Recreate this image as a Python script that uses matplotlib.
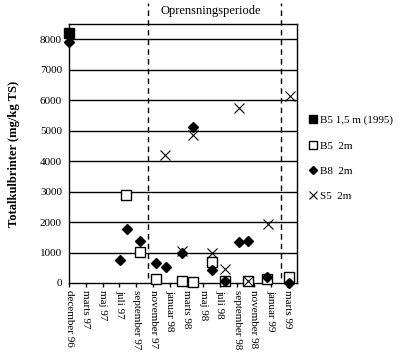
import matplotlib
matplotlib.use("Agg")
import matplotlib.pyplot as plt

plt.rcParams["font.family"] = ["Liberation Serif", "DejaVu Serif"]

# x-akse: positioner i tick-enheder (december 96 = 0)
tick_labels = ["december 96", "marts 97", "maj 97", "juli 97", "september 97",
               "november 97", "januar 98", "marts 98", "maj 98", "juli 98",
               "september 98", "november 98", "januar 99", "marts 99"]

b5_1995_x = [0.0]
b5_1995_y = [8200]

b5_x = [3.41, 4.20, 5.15, 6.73, 7.40, 8.50, 9.27, 10.65, 11.80, 13.12]
b5_y = [2890, 1030, 140, 75, 30, 700, 60, 50, 130, 210]

b8_x = [0.0, 3.04, 3.47, 4.22, 5.19, 5.78, 6.73, 7.40, 8.54, 9.27,
        10.12, 10.67, 11.80, 13.12]
b8_y = [7900, 755, 1760, 1380, 645, 535, 975, 5130, 430, 80,
        1335, 1390, 190, 10]

s5_x = [5.74, 6.73, 7.40, 8.54, 9.29, 10.12, 10.65, 11.83, 13.18]
s5_y = [4200, 1040, 4860, 975, 450, 5755, 50, 1925, 6140]

period_start = 4.72
period_end = 12.59

fig = plt.figure(figsize=(4.04, 3.6), dpi=100, facecolor="white")
ax = fig.add_axes([0.1708, 0.2139, 0.5643, 0.7194])

ax.set_xlim(0, 13.57)
ax.set_ylim(0, 8500)

for yv in range(1000, 9000, 1000):
    ax.axhline(yv, color="black", linewidth=1.0, zorder=1)

# oprensningsperiode
for xv in (period_start, period_end):
    ax.plot([xv, xv], [150, 9200], color="black", linewidth=1.0,
            linestyle=(0, (4, 3)), clip_on=False, zorder=2)
ax.text((period_start + period_end) / 2 - 0.2, 8920, "Oprensningsperiode",
        ha="center", va="center", fontsize=9)

ms = 6.5
ax.plot(b5_1995_x, b5_1995_y, linestyle="none", marker="s", markersize=ms,
        color="black", label="B5 1,5 m (1995)", clip_on=False, zorder=5)
ax.plot(b5_x, b5_y, linestyle="none", marker="s", markersize=ms,
        markerfacecolor="white", markeredgecolor="black", markeredgewidth=1.0,
        label="B5  2m", clip_on=False, zorder=4)
ax.plot(b8_x, b8_y, linestyle="none", marker="D", markersize=5.5,
        color="black", label="B8  2m", clip_on=False, zorder=5)
ax.plot(s5_x, s5_y, linestyle="none", marker="x", markersize=ms,
        color="black", markeredgewidth=0.8, label="S5  2m", clip_on=False, zorder=6)

ax.set_xticks(range(len(tick_labels)))
ax.set_xticklabels(tick_labels, rotation=270, fontsize=8)
ax.tick_params(axis="x", direction="out", length=3, width=1, pad=2)
ax.set_yticks(range(0, 9000, 1000))
ax.set_yticklabels([str(v) for v in range(0, 9000, 1000)], fontsize=8)
ax.tick_params(axis="y", length=0, pad=5)

for sp in ax.spines.values():
    sp.set_linewidth(1.0)
    sp.set_color("black")

ax.set_ylabel("Totalkulbrinter (mg/kg TS)", fontsize=9, fontweight="bold",
              labelpad=14)

ax.legend(loc="upper left", bbox_to_anchor=(1.03, 0.665), frameon=False,
          fontsize=8, handletextpad=0.15, handlelength=0.9, labelspacing=1.4,
          markerscale=0.8, borderaxespad=0)

fig.savefig("out.png", dpi=100, facecolor="white")
